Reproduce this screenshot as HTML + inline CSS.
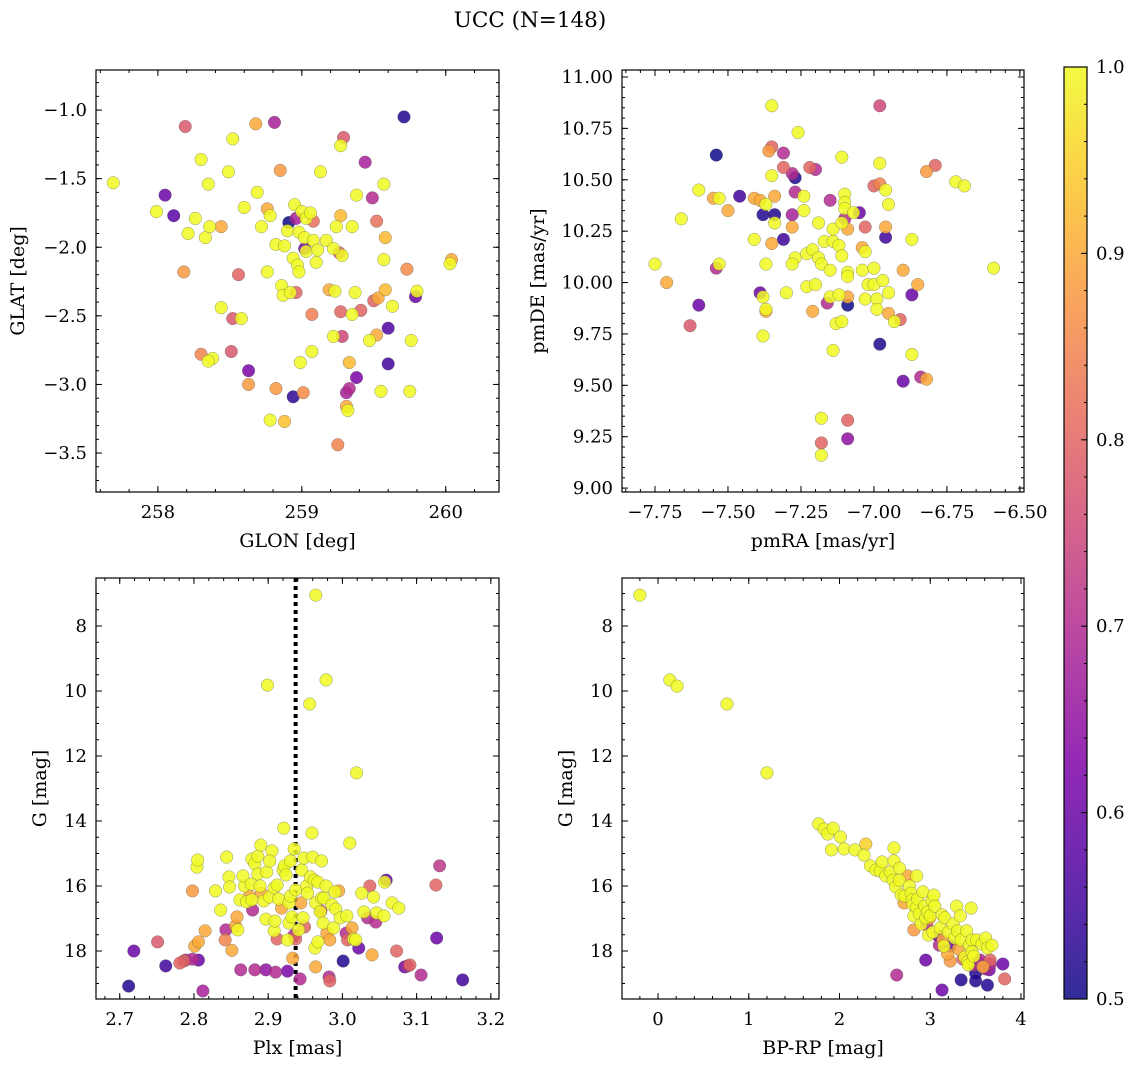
<!DOCTYPE html>
<html><head><meta charset="utf-8"><style>
body{margin:0;background:#fff;}
svg{display:block;font-family:"DejaVu Serif","Liberation Serif",serif;}
</style></head><body>
<svg id="fig" width="1136" height="1067" xmlns="http://www.w3.org/2000/svg">
<text x="530" y="27" text-anchor="middle" font-size="21.5">UCC (N=148)</text>
</svg>
<script>
// Panel 1: GLON vs GLAT
const glonVals=[257.69,257.99,258.05,258.11,258.19,258.18,258.21,258.26,258.30,258.33,258.35,258.36,258.44,258.49,258.52,258.56,258.60,258.69,258.68,258.81,258.76,258.72,258.78,258.82,258.76,258.85,258.44,258.52,258.58,258.51,258.38,258.30,258.35,258.63,258.63,258.82,258.78,258.94,258.99,259.01,258.86,258.87,258.92,258.96,258.88,258.90,258.91,258.96,258.95,259.00,259.03,259.06,259.08,258.98,259.02,259.03,258.94,258.97,258.98,259.02,259.08,259.11,259.17,259.10,259.13,259.24,259.27,259.28,259.35,259.26,259.38,259.22,259.23,259.19,259.07,259.07,259.22,259.28,259.27,259.35,259.37,259.41,259.44,259.29,259.27,259.50,259.53,259.52,259.33,259.31,259.33,259.31,259.32,259.25,259.38,259.47,259.55,259.52,259.49,259.57,259.58,259.57,259.58,259.60,259.63,259.60,259.73,259.80,259.79,259.76,259.75,260.04,260.03,259.71,258.88];
const glatVals=[-1.53,-1.74,-1.62,-1.77,-1.12,-2.18,-1.90,-1.79,-1.36,-1.93,-1.54,-1.85,-1.85,-1.45,-1.21,-2.20,-1.71,-1.60,-1.10,-1.09,-1.72,-1.85,-1.77,-1.98,-2.18,-1.44,-2.44,-2.52,-2.52,-2.76,-2.81,-2.78,-2.83,-2.90,-3.00,-3.03,-3.26,-3.09,-2.84,-3.06,-2.28,-2.35,-2.33,-2.33,-1.99,-1.88,-1.82,-1.79,-1.69,-1.74,-1.79,-1.75,-1.81,-1.89,-1.93,-2.03,-2.08,-2.13,-2.18,-2.01,-1.95,-2.02,-1.95,-2.11,-1.45,-1.85,-1.77,-2.06,-1.85,-2.04,-1.62,-2.01,-2.32,-2.31,-2.49,-2.76,-2.65,-2.65,-2.47,-2.49,-2.33,-2.46,-1.38,-1.20,-1.26,-2.39,-2.37,-2.64,-2.84,-3.06,-3.03,-3.16,-3.19,-3.44,-2.95,-2.68,-3.05,-1.81,-1.64,-1.54,-1.93,-2.09,-2.31,-2.59,-2.43,-2.85,-2.16,-2.32,-2.36,-2.68,-3.05,-2.09,-2.12,-1.05,-3.27];
const glatProb=[1,1,.6,.58,.78,.88,1,1,1,1,1,1,.9,1,1,.8,1,1,.9,.68,.9,1,1,1,1,.88,1,.78,1,.78,1,.85,1,.62,.88,.88,1,.53,1,.86,1,1,1,.8,1,1,.5,.68,1,1,1,1,.82,1,1,1,1,1,1,.62,1,1,1,1,1,1,.92,1,1,.8,1,1,1,.9,.84,1,1,.75,.8,1,1,.8,.68,.78,1,.8,.9,.9,.92,.68,.7,.9,1,.85,.62,1,1,.82,.7,1,.92,1,.92,.57,1,.55,.86,1,.6,1,1,.9,1,.52,.93];
// Panel 2: pmRA vs pmDE
const pmraVals=[-7.75,-7.71,-7.66,-7.63,-7.60,-7.60,-7.55,-7.54,-7.54,-7.53,-7.53,-7.50,-7.46,-7.41,-7.41,-7.39,-7.39,-7.37,-7.38,-7.38,-7.37,-7.37,-7.38,-7.37,-7.36,-7.35,-7.35,-7.35,-7.35,-7.34,-7.34,-7.34,-7.31,-7.31,-7.30,-7.31,-7.28,-7.28,-7.27,-7.27,-7.28,-7.27,-7.28,-7.26,-7.24,-7.24,-7.23,-7.23,-7.21,-7.22,-7.20,-7.21,-7.20,-7.19,-7.19,-7.18,-7.18,-7.18,-7.18,-7.17,-7.16,-7.15,-7.15,-7.15,-7.14,-7.14,-7.14,-7.13,-7.12,-7.12,-7.11,-7.11,-7.10,-7.09,-7.10,-7.10,-7.11,-7.11,-7.10,-7.09,-7.09,-7.09,-7.09,-7.09,-7.09,-7.07,-7.05,-7.04,-7.04,-7.03,-7.02,-7.03,-7.03,-7.00,-7.00,-7.00,-6.99,-6.99,-6.98,-6.98,-6.98,-6.98,-6.97,-6.96,-6.96,-6.95,-6.95,-6.96,-6.95,-6.93,-6.91,-6.90,-6.90,-6.87,-6.87,-6.87,-6.85,-6.84,-6.82,-6.82,-6.79,-6.72,-6.69,-6.59];
const pmdeVals=[10.09,10.00,10.31,9.79,9.89,10.45,10.41,10.62,10.07,10.09,10.41,10.35,10.42,10.21,10.41,10.40,9.95,10.38,10.33,9.93,9.87,9.86,9.74,10.09,10.64,10.86,10.66,10.52,10.19,10.29,10.33,10.42,10.63,10.21,9.95,10.56,10.53,10.33,10.51,10.44,10.27,10.12,10.09,10.73,10.42,10.35,10.14,9.98,9.86,10.56,10.55,10.16,9.99,10.29,10.12,10.09,9.22,9.34,9.16,10.20,9.90,10.40,9.93,10.06,10.26,10.20,9.67,9.80,10.18,9.94,10.29,10.13,10.43,9.93,10.39,10.36,9.81,10.61,10.31,10.26,9.89,9.24,9.33,10.05,10.03,10.34,10.34,10.17,10.06,10.27,9.99,10.15,9.92,10.47,10.07,9.99,9.92,9.87,10.48,10.58,9.70,10.86,10.01,10.22,10.27,9.95,10.38,10.45,9.85,9.81,9.82,10.06,9.52,10.21,9.94,9.65,9.99,9.54,9.53,10.54,10.57,10.49,10.47,10.07];
const pmProb=[1,.9,1,.78,.6,1,.9,.5,.7,1,1,.9,.55,1,.9,.9,.6,1,.52,1,1,.9,1,1,.88,1,.8,1,.9,1,.52,.9,.7,.55,1,.8,.7,.68,.52,.7,.9,1,1,1,1,1,1,1,.9,.8,.7,1,1,1,1,1,.8,1,1,1,.7,.7,1,1,1,1,1,1,1,1,1,1,1,.9,1,1,1,1,.7,.9,.5,.65,.8,1,1,1,.6,.9,1,.8,1,1,1,.8,1,1,1,1,.85,1,.52,.75,1,.55,.9,1,1,1,.9,1,.8,.9,.6,1,.6,1,.9,.7,.9,.88,.8,1,1];
// Panel 3: Plx vs G
const plxVals=[2.712,2.719,2.762,2.751,2.786,2.781,2.789,2.798,2.806,2.812,2.801,2.806,2.798,2.804,2.805,2.815,2.829,2.836,2.842,2.843,2.844,2.847,2.848,2.851,2.856,2.858,2.859,2.863,2.862,2.868,2.866,2.871,2.877,2.875,2.878,2.879,2.882,2.878,2.882,2.886,2.886,2.889,2.890,2.891,2.894,2.897,2.897,2.899,2.898,2.902,2.905,2.902,2.908,2.908,2.909,2.910,2.912,2.912,2.914,2.918,2.920,2.922,2.921,2.924,2.926,2.928,2.928,2.926,2.930,2.930,2.932,2.935,2.933,2.935,2.937,2.937,2.941,2.943,2.944,2.945,2.947,2.949,2.948,2.952,2.953,2.956,2.957,2.959,2.960,2.962,2.964,2.963,2.964,2.964,2.967,2.967,2.970,2.971,2.972,2.972,2.974,2.975,2.978,2.978,2.979,2.982,2.983,2.983,2.986,2.988,2.990,2.991,2.995,2.997,3.001,3.005,3.006,3.010,3.007,3.013,3.015,3.019,3.018,3.022,3.026,3.029,3.034,3.037,3.040,3.042,3.045,3.046,3.056,3.057,3.059,3.067,3.073,3.076,3.084,3.088,3.091,3.106,3.127,3.131,3.126,3.162];
const plxG=[19.08,18.00,18.46,17.72,18.31,18.37,18.28,18.25,18.28,19.23,17.85,17.72,16.15,15.42,15.20,17.38,16.15,16.74,17.66,17.35,15.11,15.72,16.03,17.98,17.23,16.95,17.35,18.58,16.43,16.00,15.69,16.49,15.94,16.31,16.43,16.74,18.58,15.17,15.32,15.08,15.63,16.00,14.74,16.22,16.46,17.02,18.58,9.82,15.57,16.34,14.92,15.23,16.06,17.38,17.08,18.65,17.63,15.97,16.40,16.68,15.51,15.38,14.22,15.66,17.66,17.14,16.52,18.62,15.23,16.31,16.95,14.86,18.22,17.51,17.63,16.12,17.35,18.86,16.52,15.51,16.98,17.26,15.14,16.00,16.22,10.40,15.72,14.37,15.11,15.82,7.05,17.91,18.49,16.52,15.88,17.72,16.80,16.77,16.37,15.23,17.14,16.37,9.66,16.00,17.45,18.80,18.92,17.66,16.58,17.29,16.18,16.71,16.15,16.98,18.31,17.45,16.92,14.68,17.66,17.29,17.63,12.52,17.66,17.91,16.22,16.80,16.98,16.00,18.12,16.34,17.11,16.83,16.92,15.88,15.82,16.52,18.00,16.68,18.49,18.46,18.43,18.74,17.60,15.38,15.97,18.89];
const plxProb=[.52,.6,.55,.78,.8,.8,.7,.7,.6,.68,.9,.9,.88,1,1,.9,1,1,.85,.7,1,1,1,.9,.9,.9,1,.7,1,1,1,1,1,.9,1,.7,.7,1,1,1,1,1,1,.9,1,1,.65,1,1,1,1,1,1,1,1,.7,.8,1,1,.9,1,1,1,1,1,1,1,.62,1,1,1,1,.9,.7,.8,1,1,.7,.9,1,1,.8,1,1,1,1,1,1,1,1,1,1,.9,1,1,1,1,.8,1,1,1,1,1,1,.9,.7,.8,.9,1,1,1,1,.9,1,.52,.7,1,1,.8,.9,1,1,1,.6,1,1,.7,.8,.9,1,.7,1,1,1,.6,1,.8,1,.6,.7,.8,.7,.6,.72,.8,.55];
// Panel 4: BP-RP vs G
const bprpVals=[-0.20,0.13,0.21,0.76,1.20,1.77,1.83,1.87,1.93,1.91,2.01,2.05,2.17,2.29,2.27,2.34,2.40,2.45,2.47,2.51,2.56,2.60,2.60,2.59,2.62,2.66,2.66,2.68,2.72,2.71,2.75,2.77,2.79,2.80,2.81,2.82,2.82,2.85,2.85,2.86,2.88,2.90,2.92,2.94,2.95,2.96,2.97,2.98,2.99,3.00,3.02,3.03,3.04,3.05,3.09,3.10,3.11,3.13,3.14,3.15,3.16,3.19,3.20,3.22,3.22,3.25,3.27,3.29,3.30,3.31,3.33,3.34,3.36,3.38,3.40,3.41,3.42,3.43,3.45,3.46,3.46,3.48,3.48,3.50,3.51,3.53,3.55,3.57,3.58,3.61,3.61,3.63,3.66,3.68,3.66,3.80,3.82,2.63,2.95,3.13,3.34,3.50,3.63,3.65];
const bprpG=[7.05,9.66,9.85,10.40,12.52,14.09,14.25,14.40,14.22,14.89,14.49,14.86,14.89,14.71,15.05,15.38,15.51,15.54,15.26,15.69,15.57,14.83,15.23,15.82,16.03,15.45,15.82,16.28,16.31,16.52,15.69,16.00,16.22,16.43,16.58,16.92,17.35,15.69,16.65,16.40,16.86,17.17,16.18,16.62,16.98,17.20,16.80,17.51,17.00,16.92,16.46,17.42,16.28,16.62,17.54,17.82,17.29,16.89,17.66,17.85,16.98,18.09,17.42,18.31,17.85,17.17,17.60,16.62,17.38,17.94,16.92,17.66,18.25,18.19,17.38,18.34,18.43,17.82,16.68,17.66,18.03,18.16,18.43,18.68,17.66,18.34,18.28,17.79,18.49,17.60,18.55,17.91,18.28,17.82,18.40,18.40,18.86,18.74,18.28,19.20,18.89,18.92,19.05,18.58];
const bprpProb=[1,1,1,1,1,1,1,1,1,1,1,1,1,.95,1,1,1,1,1,1,1,1,1,1,1,1,1,1,1,.9,.9,1,1,1,1,1,.88,1,1,1,1,1,1,1,1,.7,1,1,.9,1,1,1,1,1,.62,.7,1,1,.9,1,1,.9,1,.88,.6,1,1,1,1,.9,1,1,.8,1,1,1,1,1,1,1,1,1,.7,.52,1,.65,.7,1,.9,1,.68,1,.8,1,.7,.6,.8,.7,.6,.6,.52,.52,.52,.62];

const NS="http://www.w3.org/2000/svg";
const svg=document.getElementById('fig');
const TF=18, LF=19;
const stops=[[0,[13,8,135]],[.125,[75,3,161]],[.25,[126,3,168]],[.375,[170,35,149]],[.5,[204,71,120]],[.625,[230,107,93]],[.75,[248,149,64]],[.875,[253,197,39]],[1,[240,249,33]]];
function cmap(p){let t=Math.max(0,Math.min(1,(p-0.5)/0.5));for(let i=1;i<stops.length;i++){if(t<=stops[i][0]){const a=stops[i-1],b=stops[i];const f=(t-a[0])/(b[0]-a[0]);const c=a[1].map((v,k)=>Math.round(v+(b[1][k]-v)*f));return `rgb(${c.join(',')})`;}}return 'rgb(240,249,33)';}
function mk(tag,attrs,parent){const e=document.createElementNS(NS,tag);for(const k in attrs)e.setAttribute(k,attrs[k]);(parent||svg).appendChild(e);return e;}
function fmt(v,d){return (v<0?'\u2212':'')+Math.abs(v).toFixed(d);}
function panel(cfg){
 const {L,R,T,B,x0,x1,y0,y1}=cfg;
 const sx=v=>L+(v-x0)/(x1-x0)*(R-L);
 const sy=v=>T+(y1-v)/(y1-y0)*(B-T);
 const g=mk('g',{});
 
 
 const clip='clip-'+cfg.name;
 const cp=mk('clipPath',{id:clip},g);mk('rect',{x:L,y:T,width:R-L,height:B-T},cp);
 const pts=mk('g',{'clip-path':`url(#${clip})`},g);
 if(cfg.vline!==undefined){const l=mk('line',{x1:sx(cfg.vline),x2:sx(cfg.vline),y1:T,y2:B,stroke:'#000','stroke-width':4,'stroke-dasharray':'4,4'},pts);
 
 }
 const idx=cfg.xs.map((_,i)=>i).sort((a,b)=>cfg.cs[a]-cfg.cs[b]);
 idx.forEach(i=>{const c=mk('circle',{cx:sx(cfg.xs[i]),cy:sy(cfg.ys[i]),r:6.3,fill:cmap(cfg.cs[i]),'fill-opacity':0.85,stroke:'#555','stroke-opacity':0.6,'stroke-width':0.5},pts);
 
 });
 mk('rect',{x:L,y:T,width:R-L,height:B-T,fill:'none',stroke:'#000','stroke-width':1.2},g);
 const eps=1e-9;
 function ticksX(step,len){for(let v=Math.ceil(x0/step-eps)*step;v<=x1+eps;v+=step){const x=sx(v);mk('line',{x1:x,x2:x,y1:B,y2:B-len,stroke:'#000','stroke-width':1},g);mk('line',{x1:x,x2:x,y1:T,y2:T+len,stroke:'#000','stroke-width':1},g);}}
 function ticksY(step,len){for(let v=Math.ceil(y0/step-eps)*step;v<=y1+eps;v+=step){const y=sy(v);mk('line',{x1:L,x2:L+len,y1:y,y2:y,stroke:'#000','stroke-width':1},g);mk('line',{x1:R,x2:R-len,y1:y,y2:y,stroke:'#000','stroke-width':1},g);}}
 ticksX(cfg.xminor,3);ticksY(cfg.yminor,3);ticksX(cfg.xmajor,6);ticksY(cfg.ymajor,6);
 cfg.xticks.forEach(v=>{const t=mk('text',{x:sx(v),y:B+26,'text-anchor':'middle','font-size':TF},g);t.textContent=fmt(v,cfg.xd);
 
 });
 cfg.yticks.forEach(v=>{const t=mk('text',{x:L-9,y:sy(v)+6,'text-anchor':'end','font-size':TF},g);t.textContent=fmt(v,cfg.yd);
 
 });
 const xl=mk('text',{x:(L+R)/2,y:B+55,'text-anchor':'middle','font-size':LF},g);xl.textContent=cfg.xlabel;
 
 
 const yl=mk('text',{x:0,y:0,'text-anchor':'middle','font-size':LF,transform:`translate(${cfg.ylx},${(T+B)/2}) rotate(-90)`},g);yl.textContent=cfg.ylabel;
 
 
}
panel({name:'glon-glat-panel',L:96,R:499,T:70,B:492,x0:257.57,x1:260.37,y0:-3.784,y1:-0.708,xs:glonVals,ys:glatVals,cs:glatProb,xmajor:1,xminor:0.2,ymajor:0.5,yminor:0.1,xticks:[258,259,260],yticks:[-1.0,-1.5,-2.0,-2.5,-3.0,-3.5],xd:0,yd:1,xlabel:'GLON [deg]',ylabel:'GLAT [deg]',ylx:24});
panel({name:'pm-panel',L:622,R:1024,T:70,B:492,x0:-7.863,x1:-6.486,y0:8.981,y1:11.034,xs:pmraVals,ys:pmdeVals,cs:pmProb,xmajor:0.25,xminor:0.05,ymajor:0.25,yminor:0.05,xticks:[-7.75,-7.5,-7.25,-7.0,-6.75,-6.5],yticks:[9.0,9.25,9.5,9.75,10.0,10.25,10.5,10.75,11.0],xd:2,yd:2,xlabel:'pmRA [mas/yr]',ylabel:'pmDE [mas/yr]',ylx:544});
panel({name:'plx-g-panel',L:96,R:499,T:578,B:999,x0:2.668,x1:3.211,y0:-19.477,y1:-6.523,xs:plxVals,ys:plxG.map(v=>-v),cs:plxProb,xmajor:0.1,xminor:0.02,ymajor:2,yminor:0.5,xticks:[2.7,2.8,2.9,3.0,3.1,3.2],yticks:[],xd:1,yd:0,xlabel:'Plx [mas]',ylabel:'G [mag]',ylx:46,vline:2.937});
panel({name:'cmd-panel',L:622,R:1024,T:578,B:999,x0:-0.397,x1:4.033,y0:-19.477,y1:-6.523,xs:bprpVals,ys:bprpG.map(v=>-v),cs:bprpProb,xmajor:1,xminor:0.2,ymajor:2,yminor:0.5,xticks:[0,1,2,3,4],yticks:[],xd:0,yd:0,xlabel:'BP-RP [mag]',ylabel:'G [mag]',ylx:572});
const gTicks=[8,10,12,14,16,18];
[[96],[622]].forEach(([L])=>{gTicks.forEach(v=>{const y=578+(v-6.523)/(19.477-6.523)*421;const t=mk('text',{x:L-9,y:y+6,'text-anchor':'end','font-size':TF});t.textContent=v;
 
 });});
// Colorbar
const cbTicks=[0.5,0.6,0.7,0.8,0.9,1.0];
const defs=mk('defs',{});const lg=mk('linearGradient',{id:'cbg',x1:0,y1:1,x2:0,y2:0},defs);
for(let i=0;i<=20;i++){mk('stop',{offset:i/20,'stop-color':cmap(0.5+i/40),'stop-opacity':0.85},lg);}
const cb=mk('rect',{x:1064,y:67,width:23,height:932,fill:'url(#cbg)',stroke:'#000','stroke-width':1.2});


const cy=v=>999-(v-0.5)/0.5*932;
for(let v=0.5;v<=1.0001;v+=0.02){mk('line',{x1:1087,x2:1084,y1:cy(v),y2:cy(v),stroke:'#000','stroke-width':1});}
cbTicks.forEach(v=>{mk('line',{x1:1087,x2:1081,y1:cy(v),y2:cy(v),stroke:'#000','stroke-width':1});const t=mk('text',{x:1096,y:cy(v)+6,'font-size':TF});t.textContent=v.toFixed(1);
 
 });
</script>
</body></html>
